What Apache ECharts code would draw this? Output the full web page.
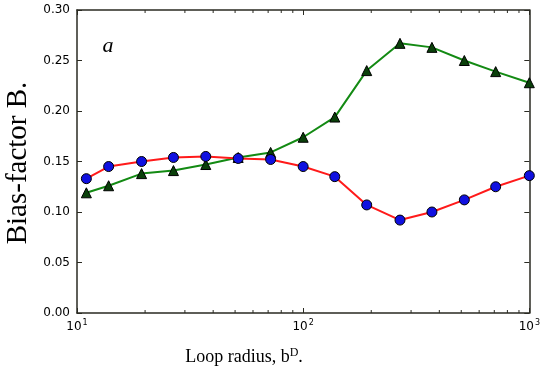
<!DOCTYPE html>
<html>
<head>
<meta charset="utf-8">
<script src="https://cdn.jsdelivr.net/npm/echarts@6/dist/echarts.min.js"></script>
<style>
  html, body { margin: 0; padding: 0; background: #fff; }
  #chart { width: 543px; height: 383px; }
</style>
</head>
<body>
<div id="chart"></div>
<script>
// loop radius (x, log scale)
var loopRadius = [11, 13.8, 19.3, 26.7, 37.1, 51.6, 71.8, 100, 138, 191, 268, 371, 516, 710, 1000];
// red line, blue circles
var biasCircles = [0.133, 0.145, 0.150, 0.154, 0.155, 0.153, 0.152, 0.145, 0.135, 0.107, 0.092, 0.100, 0.112, 0.125, 0.136];
// green line, dark triangles
var biasTriangles = [0.119, 0.126, 0.138, 0.141, 0.147, 0.154, 0.159, 0.174, 0.194, 0.240, 0.267, 0.263, 0.250, 0.239, 0.228];
// minor log ticks
var minorTicks = [20, 30, 40, 50, 60, 70, 80, 90, 200, 300, 400, 500, 600, 700, 800, 900];

var frameColor = '#2a2a22';

function pairs(xs, ys) {
  return xs.map(function (x, i) { return [x, ys[i]]; });
}

var chart = echarts.init(document.getElementById('chart'));

var frameLine = { show: true, onZero: false, lineStyle: { color: frameColor, width: 1.5 } };
var majorTick = { show: true, inside: true, length: 5, lineStyle: { color: frameColor, width: 1 } };

chart.setOption({
  animation: false,
  grid: { left: 77, right: 9, top: 10, bottom: 70 },
  xAxis: [
    {
      type: 'log', logBase: 10, min: 10, max: 1000,
      axisLine: frameLine,
      axisTick: majorTick,
      splitLine: { show: false },
      axisLabel: {
        margin: 6,
        formatter: function (v) {
          return '{b|10}{s|' + Math.round(Math.log10(v)) + '}';
        },
        rich: {
          b: { fontFamily: 'DejaVu Sans', fontSize: 12, color: '#000', verticalAlign: 'bottom' },
          s: { fontFamily: 'DejaVu Sans', fontSize: 8, color: '#000', verticalAlign: 'top', padding: [0, 0, 6, 1] }
        }
      }
    },
    {
      type: 'log', logBase: 10, min: 10, max: 1000, position: 'top',
      axisLine: frameLine,
      axisTick: majorTick,
      axisLabel: { show: false },
      splitLine: { show: false }
    }
  ],
  yAxis: [
    {
      type: 'value', min: 0, max: 0.3, interval: 0.05,
      axisLine: frameLine,
      axisTick: majorTick,
      splitLine: { show: false },
      axisLabel: {
        margin: 7,
        fontFamily: 'DejaVu Sans', fontSize: 12, color: '#000',
        formatter: function (v) { return v.toFixed(2); }
      }
    },
    {
      type: 'value', min: 0, max: 0.3, interval: 0.05, position: 'right',
      axisLine: frameLine,
      axisTick: majorTick,
      axisLabel: { show: false },
      splitLine: { show: false }
    }
  ],
  graphic: [
    {
      type: 'text', x: 18, y: 163, rotation: Math.PI / 2,
      style: {
        text: 'Bias-factor B.', fontFamily: 'Liberation Serif', fontSize: 29,
        fill: '#000', textAlign: 'center', textVerticalAlign: 'middle'
      }
    },
    {
      type: 'text', x: 244, y: 357,
      style: {
        text: '{t|Loop radius, b}{s|D}{t|.}',
        rich: {
          t: { fontFamily: 'Liberation Serif', fontSize: 18, color: '#000' },
          s: { fontFamily: 'Liberation Serif', fontSize: 12, color: '#000', padding: [0, 0, 8, 0] }
        },
        textAlign: 'center', textVerticalAlign: 'middle'
      }
    },
    {
      type: 'text', x: 108, y: 46,
      style: {
        text: 'a', fontFamily: 'Liberation Serif', fontStyle: 'italic', fontSize: 22,
        fill: '#000', textAlign: 'center', textVerticalAlign: 'middle'
      }
    }
  ],
  series: [
    {
      type: 'custom',
      silent: true,
      data: minorTicks,
      encode: { x: 0 },
      clip: false,
      z: 5,
      renderItem: function (params, api) {
        var v = api.value(0);
        var b = api.coord([v, 0]);
        var t = api.coord([v, 0.3]);
        return {
          type: 'group',
          children: [
            { type: 'line', shape: { x1: b[0], y1: b[1], x2: b[0], y2: b[1] - 3 }, style: { stroke: frameColor, lineWidth: 1 } },
            { type: 'line', shape: { x1: t[0], y1: t[1], x2: t[0], y2: t[1] + 3 }, style: { stroke: frameColor, lineWidth: 1 } }
          ]
        };
      }
    },
    {
      name: 'green',
      type: 'line',
      data: pairs(loopRadius, biasTriangles),
      lineStyle: { color: '#138a13', width: 2 },
      symbol: 'triangle',
      symbolSize: 10,
      itemStyle: { color: '#0a400a', borderColor: '#000', borderWidth: 1 },
      z: 2
    },
    {
      name: 'red',
      type: 'line',
      data: pairs(loopRadius, biasCircles),
      lineStyle: { color: '#ff1a1a', width: 2 },
      symbol: 'circle',
      symbolSize: 10,
      itemStyle: { color: '#1010e0', borderColor: '#000', borderWidth: 1 },
      z: 3
    }
  ]
});
</script>
</body>
</html>
